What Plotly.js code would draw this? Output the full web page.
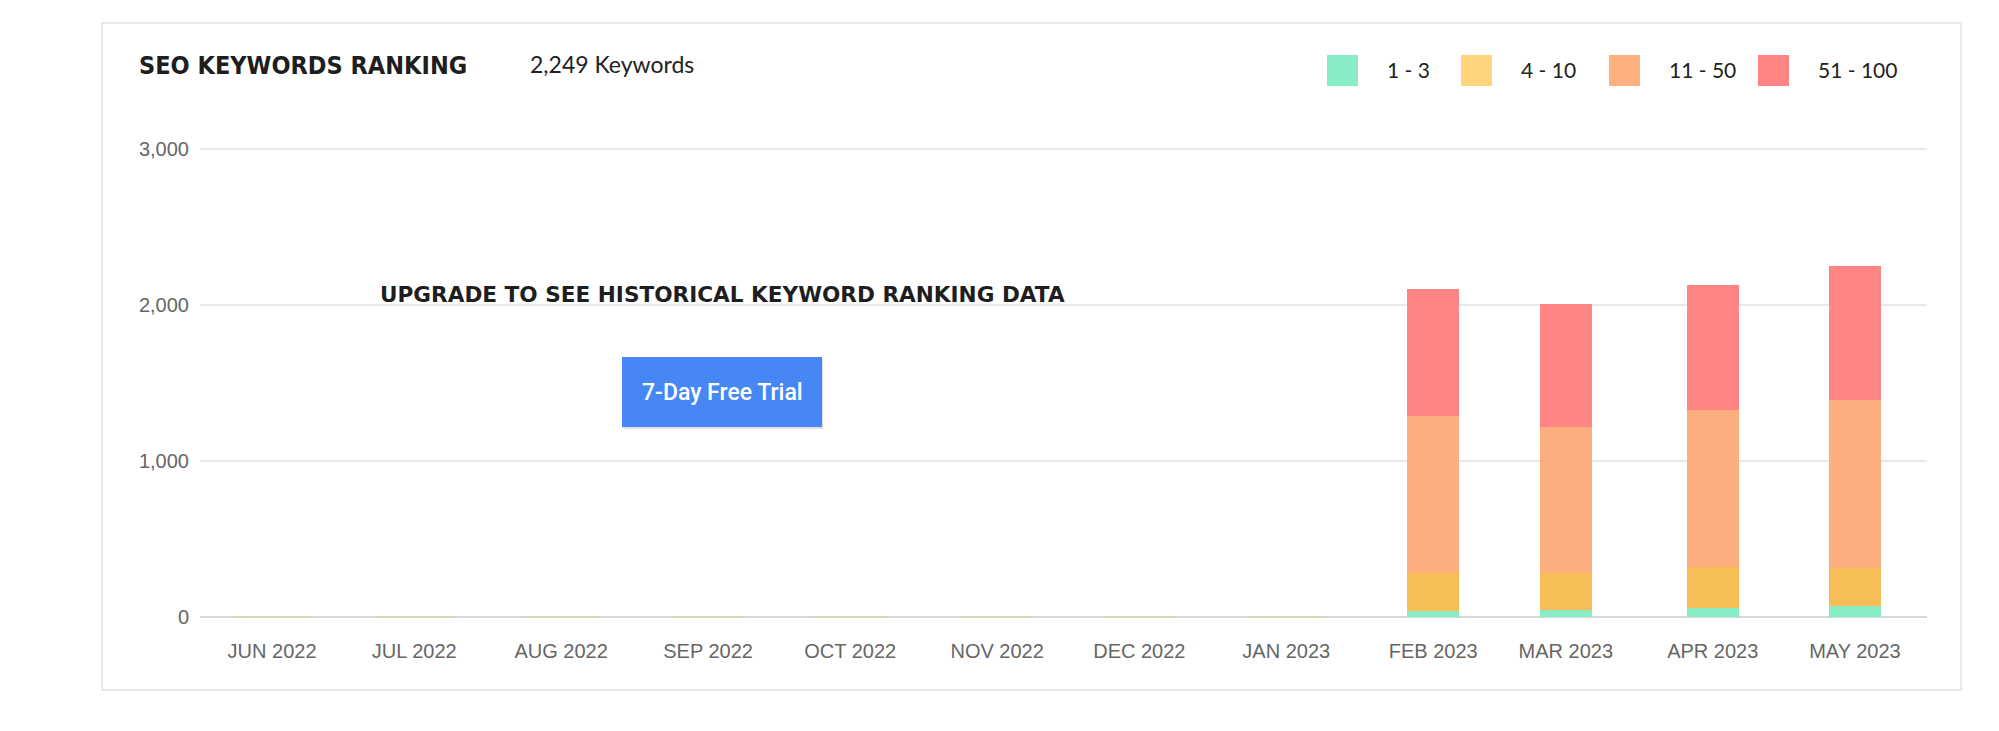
<!DOCTYPE html>
<html>
<head>
<meta charset="utf-8">
<script src="https://cdn.plot.ly/plotly-3.0.1.min.js"></script>
<style>
  html, body { margin: 0; padding: 0; background: #fff; }
  #chart { width: 1999px; height: 731px; }
</style>
</head>
<body>
<div id="chart"></div>
<script>
// months shown on the x axis (bars sit on the 1st of each month)
const months = ['2022-06-01', '2022-07-01', '2022-08-01', '2022-09-01', '2022-10-01', '2022-11-01',
  '2022-12-01', '2023-01-01', '2023-02-01', '2023-03-01', '2023-04-01', '2023-05-01']
const monthLabels = ['JUN 2022', 'JUL 2022', 'AUG 2022', 'SEP 2022', 'OCT 2022', 'NOV 2022',
  'DEC 2022', 'JAN 2023', 'FEB 2023', 'MAR 2023', 'APR 2023', 'MAY 2023']

// keyword counts per ranking bucket
const rank1to3 = [0, 0, 0, 0, 0, 0, 0, 0, 38, 43, 56, 69]
const rank4to10 = [0, 0, 0, 0, 0, 0, 0, 0, 242, 237, 262, 245]
const rank11to50 = [0, 0, 0, 0, 0, 0, 0, 0, 1008, 940, 1009, 1075]
const rank51to100 = [0, 0, 0, 0, 0, 0, 0, 0, 817, 789, 799, 860]

const seriesNames = ['1 - 3', '4 - 10', '11 - 50', '51 - 100']
const yTicks = [0, 1000, 2000, 3000]
const totalKeywords = 2249

const barColors = ['#88ECC4', '#F7BD56', '#FDAE7E', '#FF8585']
const legendColors = ['#88ECC4', '#FFD47A', '#FFB07F', '#FF8585']

// plot area in pixels, used to place the decorations
const W = 1999
const H = 731
const M = { l: 200, r: 72, t: 147, b: 114 }
const plotW = W - M.l - M.r
const plotH = H - M.t - M.b
const px = x => (x - M.l) / plotW
const py = y => (H - M.b - y) / plotH

const dayMs = 86400000
const seriesValues = [rank1to3, rank4to10, rank11to50, rank51to100]

const data = seriesValues.map((vals, i) => ({
  type: 'bar',
  x: months,
  y: vals,
  name: seriesNames[i],
  width: 11 * dayMs,
  marker: { color: barColors[i], line: { width: 0 } },
  hoverinfo: 'skip',
}))

// empty months still show a faint stub on the baseline
const totals = months.map((m, i) => seriesValues.reduce((s, v) => s + v[i], 0))
const emptyMonths = months.filter((m, i) => totals[i] === 0)
data.push({
  type: 'scatter',
  mode: 'markers',
  x: emptyMonths,
  y: emptyMonths.map(() => 0),
  marker: { symbol: 'line-ew-open', size: 52, color: '#d6dba6', line: { color: '#d6dba6', width: 1.5 } },
  hoverinfo: 'skip',
  cliponaxis: false,
})

const textFont = { family: 'Lato, sans-serif', size: 21, color: '#222' }

const shapes = [
  // card border
  {
    type: 'rect', xref: 'paper', yref: 'paper', layer: 'below',
    x0: px(102), x1: px(1961), y0: py(23), y1: py(690),
    line: { color: '#e8e8e8', width: 2 }, fillcolor: 'rgba(0,0,0,0)',
  },
  // button shadow + button
  {
    type: 'rect', xref: 'paper', yref: 'paper',
    x0: px(623), x1: px(823), y0: py(359), y1: py(429),
    line: { width: 0 }, fillcolor: 'rgba(0,0,0,0.12)',
  },
  {
    type: 'rect', xref: 'paper', yref: 'paper',
    x0: px(622), x1: px(822), y0: py(357), y1: py(427),
    line: { width: 0 }, fillcolor: '#4687F5',
  },
]

const annotations = [
  {
    xref: 'paper', yref: 'paper', x: px(137), y: py(66), xanchor: 'left', yanchor: 'middle',
    text: 'SEO KEYWORDS RANKING', showarrow: false,
    font: { family: 'DejaVu Sans Condensed, DejaVu Sans', size: 25, weight: 'bold', color: '#1e1e1e' },
  },
  {
    xref: 'paper', yref: 'paper', x: px(528), y: py(64), xanchor: 'left', yanchor: 'middle',
    text: totalKeywords.toLocaleString('en-US') + ' Keywords', showarrow: false,
    font: { family: 'Lato, sans-serif', size: 23, color: '#222' },
  },
  {
    xref: 'paper', yref: 'paper', x: px(722), y: py(294), xanchor: 'center', yanchor: 'middle',
    text: 'UPGRADE TO SEE HISTORICAL KEYWORD RANKING DATA', showarrow: false,
    font: { family: 'DejaVu Sans', size: 21.6, weight: 'bold', color: '#1e1e1e' },
  },
  {
    xref: 'paper', yref: 'paper', x: px(722), y: py(392), xanchor: 'center', yanchor: 'middle',
    text: '7-Day Free Trial', showarrow: false,
    font: { family: 'Roboto', size: 23, weight: 500, color: '#ffffff' },
  },
]

// custom legend: big square swatches
const swatchX = [1327, 1461, 1609, 1758]
seriesNames.forEach((name, i) => {
  shapes.push({
    type: 'rect', xref: 'paper', yref: 'paper',
    x0: px(swatchX[i]), x1: px(swatchX[i] + 31), y0: py(55), y1: py(86),
    line: { width: 0 }, fillcolor: legendColors[i],
  })
  annotations.push({
    xref: 'paper', yref: 'paper', x: px(swatchX[i] + 58), y: py(70), xanchor: 'left', yanchor: 'middle',
    text: name, showarrow: false, font: textFont,
  })
})

const layout = {
  width: W,
  height: H,
  margin: M,
  barmode: 'stack',
  showlegend: false,
  paper_bgcolor: '#ffffff',
  plot_bgcolor: '#ffffff',
  xaxis: {
    type: 'date',
    range: ['2022-05-16 19:00', '2023-05-16 05:00'],
    tickmode: 'array',
    tickvals: months,
    ticktext: monthLabels,
    ticks: '',
    ticklabelstandoff: 20,
    tickfont: { family: 'Liberation Sans, Arial', size: 20, color: '#666' },
    showgrid: false,
    showline: false,
    zeroline: false,
    fixedrange: true,
  },
  yaxis: {
    range: [0, 3013],
    tickmode: 'array',
    tickvals: yTicks,
    ticktext: yTicks.map(v => v.toLocaleString('en-US')),
    ticks: '',
    ticklabelstandoff: 10,
    tickfont: { family: 'Liberation Sans, Arial', size: 20, color: '#666' },
    showgrid: true,
    gridcolor: '#e8e8e8',
    gridwidth: 1.5,
    zeroline: true,
    zerolinecolor: '#d8d8d8',
    zerolinewidth: 2,
    fixedrange: true,
  },
  shapes,
  annotations,
}

Plotly.newPlot('chart', data, layout, { displayModeBar: false, staticPlot: true })
</script>
</body>
</html>
